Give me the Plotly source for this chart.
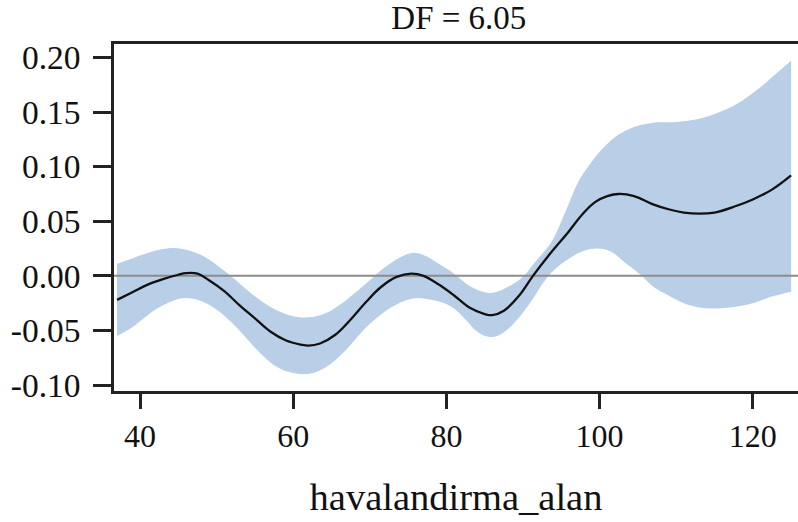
import plotly.graph_objects as go

# ---- data ----
fit_x = [37, 39, 41, 43, 45, 46, 47.5, 49, 51, 53, 55, 57, 59, 61, 62, 63.5, 65.5, 67.5,
         69.5, 71.5, 73.5, 75.4, 77, 79, 81, 83, 85, 86, 87.5, 89.5, 91.3, 93.5, 95.9,
         97.7, 99.4, 101, 102.5, 104.5, 106.8, 109, 111, 113, 115, 117.8, 120, 122.5, 125]
fit_y = [-0.022, -0.015, -0.008, -0.003, 0.001, 0.0025, 0.002, -0.004, -0.014, -0.027,
         -0.039, -0.051, -0.059, -0.063, -0.064, -0.062, -0.054, -0.040, -0.024, -0.010,
         -0.001, 0.002, 0.000, -0.008, -0.018, -0.029, -0.035, -0.036, -0.032, -0.018,
         0.000, 0.020, 0.040, 0.056, 0.0675, 0.073, 0.075, 0.073, 0.066, 0.061, 0.058,
         0.057, 0.058, 0.064, 0.070, 0.079, 0.092]

upper_x = [37, 39, 41, 43, 44.5, 46, 48, 50, 52, 54, 56, 58, 60, 62, 64, 66, 68, 70, 72,
           74, 75.5, 77, 79, 81, 83, 85, 86, 87.5, 89.8, 91.5, 93.7, 95.5, 97.2, 98.8,
           100.3, 102, 104, 106.8, 110, 113.4, 116, 118.6, 121, 123, 125]
upper_y = [0.011, 0.016, 0.021, 0.0245, 0.0255, 0.024, 0.019, 0.010, -0.001, -0.013,
           -0.024, -0.032, -0.037, -0.038, -0.035, -0.027, -0.016, -0.004, 0.008, 0.017,
           0.021, 0.019, 0.011, 0.002, -0.009, -0.015, -0.0155, -0.012, -0.002, 0.012,
           0.031, 0.058, 0.086, 0.103, 0.116, 0.127, 0.135, 0.140, 0.141, 0.1447, 0.151,
           0.1605, 0.173, 0.185, 0.197]

lower_x = [37, 39, 41, 43, 45.5, 47.5, 50, 52, 54, 56, 58, 60, 61.5, 63, 65, 67, 69, 71,
           73, 75.5, 78, 80.6, 82.5, 84, 85.6, 87, 89, 91, 93, 94.5, 96.5, 98, 99.7,
           101.5, 103.5, 105.5, 107, 109, 111, 113, 114.7, 117, 120, 122.5, 125]
lower_y = [-0.055, -0.047, -0.036, -0.027, -0.0205, -0.022, -0.031, -0.043, -0.058,
           -0.073, -0.084, -0.089, -0.090, -0.088, -0.080, -0.067, -0.051, -0.038, -0.028,
           -0.021, -0.022, -0.028, -0.040, -0.051, -0.056, -0.054, -0.042, -0.024, -0.003,
           0.008, 0.018, 0.023, 0.025, 0.022, 0.011, 0.000, -0.010, -0.018, -0.025, -0.029,
           -0.030, -0.029, -0.025, -0.019, -0.0145]

x_tick_vals = [40, 60, 80, 100, 120]
y_tick_vals = [-0.10, -0.05, 0.00, 0.05, 0.10, 0.15, 0.20]
y_tick_text = ["-0.10", "-0.05", "0.00", "0.05", "0.10", "0.15", "0.20"]
x_range = [36.6, 125.9]
y_range = [-0.1055, 0.2124]
title_text = "DF = 6.05"
x_title = "havalandirma_alan"

FONT = "Liberation Serif"
BAND = "rgb(185,207,231)"
SMOOTH = 1.1

fig = go.Figure()
fig.add_trace(go.Scatter(x=lower_x, y=lower_y, mode="lines",
                         line=dict(width=0, color=BAND, shape="spline", smoothing=SMOOTH),
                         hoverinfo="skip", showlegend=False))
fig.add_trace(go.Scatter(x=upper_x, y=upper_y, mode="lines", fill="tonexty",
                         fillcolor=BAND,
                         line=dict(width=0, color=BAND, shape="spline", smoothing=SMOOTH),
                         hoverinfo="skip", showlegend=False))
fig.add_trace(go.Scatter(x=x_range, y=[0, 0], mode="lines",
                         line=dict(color="rgb(140,140,140)", width=2),
                         hoverinfo="skip", showlegend=False))
fig.add_trace(go.Scatter(x=fit_x, y=fit_y, mode="lines",
                         line=dict(color="#111111", width=2.3, shape="spline", smoothing=SMOOTH),
                         showlegend=False))

fig.update_layout(
    width=798, height=522,
    margin=dict(l=114, r=0, t=44, b=131),
    paper_bgcolor="white", plot_bgcolor="white",
    font=dict(family=FONT, size=32, color="#111111"),
    title=dict(text=title_text, x=0.575, xanchor="center", y=0.966, yanchor="middle",
               yref="container", font=dict(family=FONT, size=33, color="#111111")),
)
fig.update_xaxes(
    range=x_range, tickvals=x_tick_vals, ticks="outside", ticklen=15, tickwidth=2.5,
    tickcolor="#222222", showline=True, linecolor="#222222", linewidth=2.5,
    mirror=True, showgrid=False, zeroline=False, ticklabelstandoff=0,
    tickfont=dict(family=FONT, size=32, color="#111111"),
    title=dict(text=x_title, standoff=30, font=dict(family=FONT, size=38.5, color="#111111")),
)
fig.update_yaxes(
    range=y_range, tickvals=y_tick_vals, ticktext=y_tick_text, ticks="outside",
    ticklen=18, tickwidth=2.5, tickcolor="#222222", showline=True, linecolor="#222222",
    linewidth=2.5, showgrid=False, zeroline=False, ticklabelstandoff=6,
    tickfont=dict(family=FONT, size=33.5, color="#111111"),
)

fig.write_html("out.html", config={"displayModeBar": False},
               post_script="document.body.style.margin='0';document.body.style.overflow='hidden';")
